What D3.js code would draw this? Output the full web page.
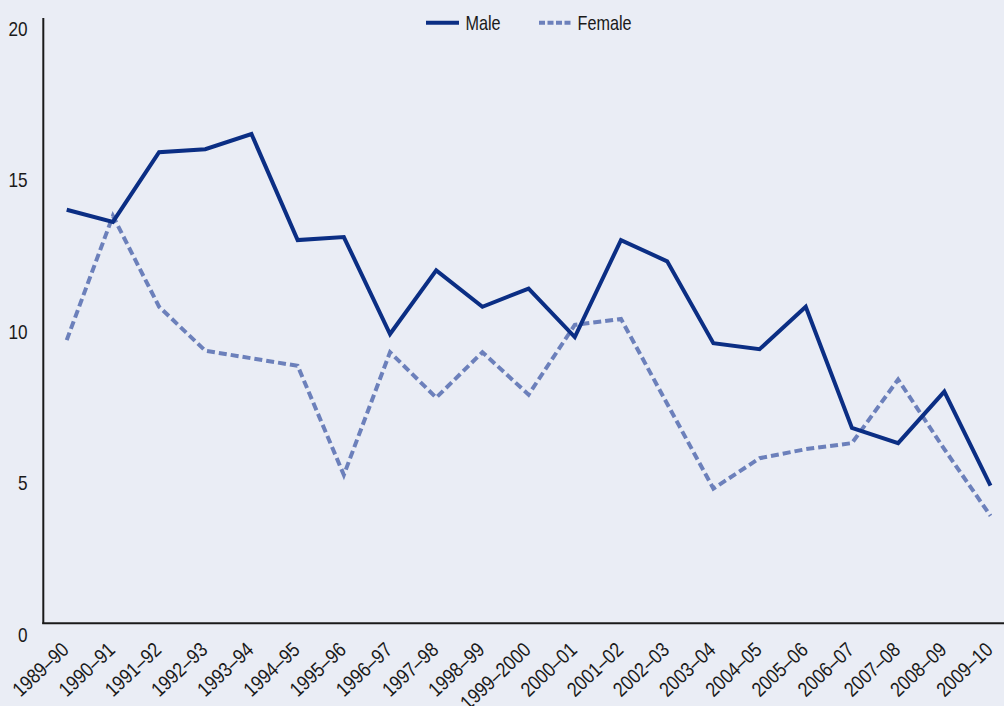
<!DOCTYPE html>
<html>
<head>
<meta charset="utf-8">
<script src="https://cdn.jsdelivr.net/npm/d3@7"></script>
<style>
  html, body { margin: 0; padding: 0; background: #eaedf5; }
  svg { display: block; }
  text { font-family: "Liberation Sans", Arial, sans-serif; fill: #1a1a1a; }
</style>
</head>
<body>
<svg id="chart" width="1004" height="706"></svg>
<script>
const categories = ["1989–90","1990–91","1991–92","1992–93","1993–94","1994–95","1995–96","1996–97","1997–98","1998–99","1999–2000","2000–01","2001–02","2002–03","2003–04","2004–05","2005–06","2006–07","2007–08","2008–09","2009–10"];
const maleValues = [14.0,13.6,15.9,16.0,16.5,13.0,13.1,9.9,12.0,10.8,11.4,9.8,13.0,12.3,9.6,9.4,10.8,6.8,6.3,8.0,4.9];
const femaleValues = [9.7,13.8,10.8,9.35,9.1,8.85,5.25,9.3,7.8,9.3,7.9,10.2,10.4,7.6,4.8,5.8,6.1,6.3,8.4,6.1,3.9];
const yTicks = [0,5,10,15,20];
const seriesNames = ["Male","Female"];

const W = 1004, H = 706;
const svg = d3.select("#chart");
svg.append("rect").attr("width", W).attr("height", H).attr("fill", "#eaedf5");

const x = d3.scalePoint().domain(categories).range([66.7, 990.5]);
const y = d3.scaleLinear().domain([0, 20]).range([634, 28]);

const maleColor = "#0b2e84";
const femaleColor = "#6c80bb";

// axis lines
svg.append("line").attr("x1", 43.3).attr("x2", 43.3).attr("y1", 18).attr("y2", 624)
  .attr("stroke", "#1a1a1a").attr("stroke-width", 2);
svg.append("line").attr("x1", 42.3).attr("x2", W).attr("y1", 623.3).attr("y2", 623.3)
  .attr("stroke", "#1a1a1a").attr("stroke-width", 2);

// y axis labels
const yAxis = d3.axisLeft(y).tickValues(yTicks).tickSize(0).tickPadding(0);
const gy = svg.append("g").attr("transform", "translate(27.5,0)").call(yAxis);
gy.select(".domain").remove();
gy.selectAll("text")
  .attr("x", 0).attr("dy", "0.36em")
  .attr("font-size", 20)
  .attr("transform", "scale(0.86,1)")
  .style("font-family", '"Liberation Sans", Arial, sans-serif').attr("fill", "#1a1a1a");

// x axis labels
const xAxis = d3.axisBottom(x).tickSize(0).tickPadding(0);
const gx = svg.append("g").call(xAxis);
gx.select(".domain").remove();
gx.selectAll(".tick").attr("transform", d => `translate(${x(d) + 3.5},651.5)`);
gx.selectAll("text")
  .attr("y", 0).attr("dy", 0).attr("x", 0)
  .attr("text-anchor", "end")
  .attr("transform", "rotate(-43) scale(0.85,1)")
  .attr("font-size", 20.5)
  .style("font-family", '"Liberation Sans", Arial, sans-serif')
  .attr("fill", "#1a1a1a");

// lines
const line = d3.line().x((d, i) => x(categories[i])).y(d => y(d));
svg.append("path").datum(femaleValues).attr("d", line)
  .attr("fill", "none").attr("stroke", femaleColor).attr("stroke-width", 4)
  .attr("stroke-dasharray", "8,4").attr("stroke-linejoin", "miter");
svg.append("path").datum(maleValues).attr("d", line)
  .attr("fill", "none").attr("stroke", maleColor).attr("stroke-width", 4)
  .attr("stroke-linejoin", "miter");

// legend
const legend = svg.append("g");
legend.append("line").attr("x1", 426).attr("x2", 459).attr("y1", 22.7).attr("y2", 22.7)
  .attr("stroke", maleColor).attr("stroke-width", 4);
legend.append("text").attr("transform", "translate(465.5,22.7) scale(0.79,1)").attr("dy", "0.36em")
  .attr("font-size", 20.5).text(seriesNames[0]);
legend.append("line").attr("x1", 539).attr("x2", 571).attr("y1", 22.7).attr("y2", 22.7)
  .attr("stroke", femaleColor).attr("stroke-width", 4).attr("stroke-dasharray", "6,2.5");
legend.append("text").attr("transform", "translate(577.5,22.7) scale(0.79,1)").attr("dy", "0.36em")
  .attr("font-size", 20.5).text(seriesNames[1]);
</script>
</body>
</html>
